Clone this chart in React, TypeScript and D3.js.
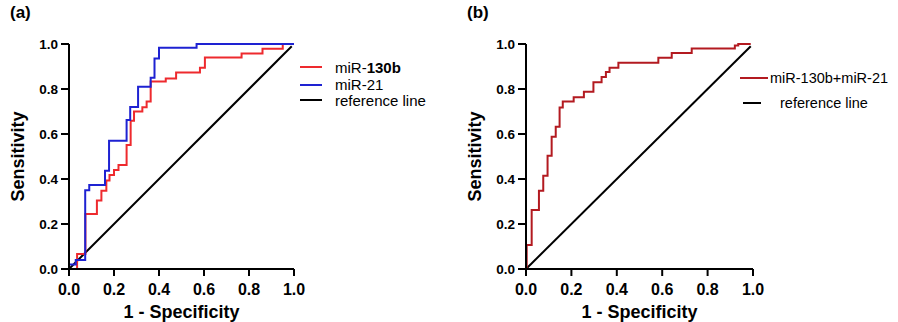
import React from 'react';
import * as d3 from 'd3';

const tickValues = [0, 0.2, 0.4, 0.6, 0.8, 1.0];
const tickLabels = ['0.0', '0.2', '0.4', '0.6', '0.8', '1.0'];

const mir130bFpr = [0, 0.036, 0.073, 0.124, 0.144, 0.166, 0.18, 0.2, 0.22, 0.256, 0.274, 0.289, 0.326, 0.345, 0.363, 0.43, 0.476, 0.582, 0.604, 0.767, 0.86, 0.95, 0.98];
const mir130bTpr = [0, 0.067, 0.244, 0.304, 0.348, 0.393, 0.418, 0.44, 0.462, 0.551, 0.659, 0.70, 0.719, 0.744, 0.833, 0.847, 0.873, 0.895, 0.94, 0.958, 0.979, 1.0, 1.0];

const mir21Fpr = [0, 0, 0.03, 0.072, 0.09, 0.16, 0.178, 0.256, 0.272, 0.307, 0.363, 0.38, 0.40, 0.567, 1.0];
const mir21Tpr = [0, 0.02, 0.04, 0.35, 0.373, 0.437, 0.57, 0.662, 0.72, 0.81, 0.85, 0.936, 0.983, 1.0, 1.0];

const comboFpr = [0, 0.003, 0.025, 0.057, 0.076, 0.095, 0.113, 0.131, 0.148, 0.162, 0.21, 0.255, 0.297, 0.333, 0.352, 0.368, 0.407, 0.583, 0.642, 0.73, 0.92, 0.935, 0.99];
const comboTpr = [0, 0.107, 0.262, 0.348, 0.414, 0.503, 0.588, 0.632, 0.718, 0.744, 0.763, 0.788, 0.83, 0.853, 0.876, 0.895, 0.917, 0.939, 0.96, 0.98, 0.993, 1.0, 1.0];

const refFpr = [0, 0.99];
const refTpr = [0, 0.99];

const FONT = "'Liberation Sans', Arial, Helvetica, sans-serif";

type Series = { fpr: number[]; tpr: number[]; color: string; step: boolean };

function Panel(props: {
  x0: number; x1: number; y0: number; y1: number;
  tag: string; tagX: number; series: Series[];
}) {
  const { x0, x1, y0, y1, tag, tagX, series } = props;
  const xs = d3.scaleLinear().domain([0, 1]).range([x0, x1]);
  const ys = d3.scaleLinear().domain([0, 1]).range([y0, y1]);
  const cx = (x0 + x1) / 2;
  const cy = (y0 + y1) / 2;
  return (
    <g>
      <text x={tagX} y={18} fontFamily={FONT} fontWeight="bold" fontSize={17}>{tag}</text>
      {series.map((s, i) => {
        const pts: [number, number][] = s.fpr.map((f, k) => [f, s.tpr[k]]);
        const line = d3.line<[number, number]>()
          .x(d => xs(d[0]))
          .y(d => ys(d[1]))
          .curve(s.step ? d3.curveStepAfter : d3.curveLinear);
        return <path key={i} d={line(pts) || ''} fill="none" stroke={s.color} strokeWidth={2} />;
      })}
      <line x1={x0} x2={x0} y1={y0 + 1} y2={y1} stroke="#000" strokeWidth={2} />
      <line x1={x0 - 1} x2={x1} y1={y0} y2={y0} stroke="#000" strokeWidth={2} />
      {tickValues.map((t, i) => (
        <g key={'x' + i}>
          <line x1={xs(t)} x2={xs(t)} y1={y0} y2={y0 + 7} stroke="#000" strokeWidth={2} />
          <text x={xs(t)} y={295} textAnchor="middle" fontFamily={FONT} fontWeight="bold" fontSize={16}>{tickLabels[i]}</text>
        </g>
      ))}
      {tickValues.map((t, i) => (
        <g key={'y' + i}>
          <line x1={x0 - 8} x2={x0} y1={ys(t)} y2={ys(t)} stroke="#000" strokeWidth={2} />
          <text x={x0 - 11} y={ys(t) + 5} textAnchor="end" fontFamily={FONT} fontWeight="bold" fontSize={13.5}>{tickLabels[i]}</text>
        </g>
      ))}
      <text x={cx} y={318} textAnchor="middle" fontFamily={FONT} fontWeight="bold" fontSize={18}>1 - Specificity</text>
      <text transform={`translate(${x0 - 45},${cy}) rotate(-90)`} textAnchor="middle" fontFamily={FONT} fontWeight="bold" fontSize={18}>Sensitivity</text>
    </g>
  );
}

export default function App() {
  const red = '#ee2a2e';
  const blue = '#1e22d2';
  const darkRed = '#b31a20';
  return (
    <svg width={898} height={322} style={{ position: 'absolute', left: 0, top: 0, background: '#fff' }}>
      <rect x={0} y={0} width={898} height={322} fill="#fff" />
      <Panel x0={69} x1={294} y0={269} y1={44} tag="(a)" tagX={10}
        series={[
          { fpr: refFpr, tpr: refTpr, color: '#000', step: false },
          { fpr: mir130bFpr, tpr: mir130bTpr, color: red, step: true },
          { fpr: mir21Fpr, tpr: mir21Tpr, color: blue, step: true },
        ]} />
      <Panel x0={526} x1={753} y0={269} y1={44} tag="(b)" tagX={467}
        series={[
          { fpr: refFpr, tpr: refTpr, color: '#000', step: false },
          { fpr: comboFpr, tpr: comboTpr, color: darkRed, step: true },
        ]} />
      <g fontFamily={FONT} fontSize={15}>
        <line x1={300} x2={322} y1={67} y2={67} stroke={red} strokeWidth={2} />
        <text x={335} y={73}>miR-<tspan fontWeight="bold">130b</tspan></text>
        <line x1={300} x2={322} y1={85} y2={85} stroke={blue} strokeWidth={2} />
        <text x={335} y={90}>miR-21</text>
        <line x1={300} x2={322} y1={100} y2={100} stroke="#000" strokeWidth={2} />
        <text x={335} y={106}>reference line</text>
      </g>
      <g fontFamily={FONT} fontSize={14.5}>
        <line x1={740} x2={768} y1={78} y2={78} stroke={darkRed} strokeWidth={2} />
        <text x={770} y={83}>miR-130b+miR-21</text>
        <line x1={743} x2={761} y1={103} y2={103} stroke="#000" strokeWidth={2} />
        <text x={780} y={108}>reference line</text>
      </g>
    </svg>
  );
}
